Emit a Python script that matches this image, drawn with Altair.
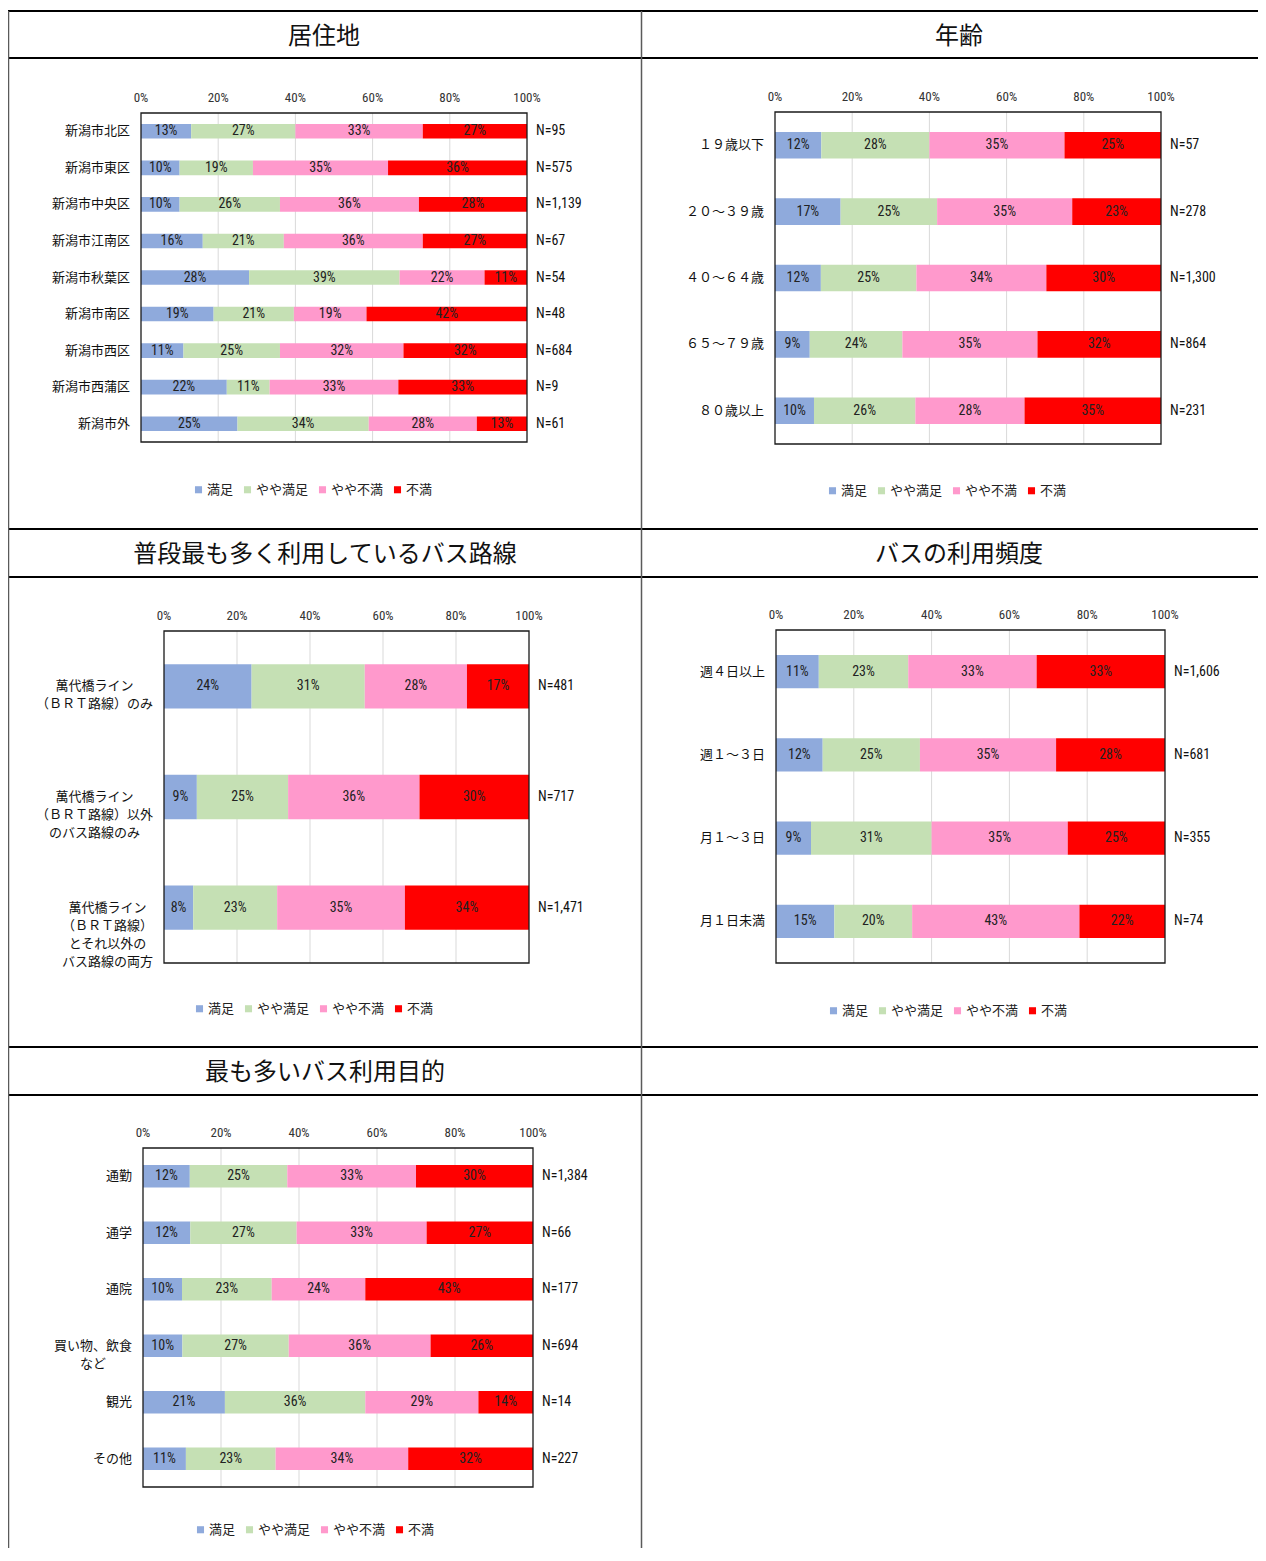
import altair as alt
import pandas as pd

LEVELS = ["満足", "やや満足", "やや不満", "不満"]
COLORS = ["#8FAADC", "#C5E0B4", "#FF99CC", "#FF0000"]
TICKS = [0, 20, 40, 60, 80, 100]

# 居住地
RES_CATS = ["新潟市北区", "新潟市東区", "新潟市中央区", "新潟市江南区", "新潟市秋葉区",
            "新潟市南区", "新潟市西区", "新潟市西蒲区", "新潟市外"]
RES_SAT = [13, 10, 10, 16, 28, 19, 11, 22, 25]
RES_SSAT = [27, 19, 26, 21, 39, 21, 25, 11, 34]
RES_SDIS = [33, 35, 36, 36, 22, 19, 32, 33, 28]
RES_DIS = [27, 36, 28, 27, 11, 42, 32, 33, 13]
RES_N = ["N=95", "N=575", "N=1,139", "N=67", "N=54", "N=48", "N=684", "N=9", "N=61"]

# 年齢
AGE_CATS = ["１９歳以下", "２０～３９歳", "４０～６４歳", "６５～７９歳", "８０歳以上"]
AGE_SAT = [12, 17, 12, 9, 10]
AGE_SSAT = [28, 25, 25, 24, 26]
AGE_SDIS = [35, 35, 34, 35, 28]
AGE_DIS = [25, 23, 30, 32, 35]
AGE_N = ["N=57", "N=278", "N=1,300", "N=864", "N=231"]

# 普段最も多く利用しているバス路線
ROUTE_CATS = ["萬代橋ライン\n（ＢＲＴ路線）のみ",
              "萬代橋ライン\n（ＢＲＴ路線）以外\nのバス路線のみ",
              "萬代橋ライン\n（ＢＲＴ路線）\nとそれ以外の\nバス路線の両方"]
ROUTE_SAT = [24, 9, 8]
ROUTE_SSAT = [31, 25, 23]
ROUTE_SDIS = [28, 36, 35]
ROUTE_DIS = [17, 30, 34]
ROUTE_N = ["N=481", "N=717", "N=1,471"]

# バスの利用頻度
FREQ_CATS = ["週４日以上", "週１～３日", "月１～３日", "月１日未満"]
FREQ_SAT = [11, 12, 9, 15]
FREQ_SSAT = [23, 25, 31, 20]
FREQ_SDIS = [33, 35, 35, 43]
FREQ_DIS = [33, 28, 25, 22]
FREQ_N = ["N=1,606", "N=681", "N=355", "N=74"]

# 最も多いバス利用目的
PURP_CATS = ["通勤", "通学", "通院", "買い物、飲食\nなど", "観光", "その他"]
PURP_SAT = [12, 12, 10, 10, 21, 11]
PURP_SSAT = [25, 27, 23, 27, 36, 23]
PURP_SDIS = [33, 33, 24, 36, 29, 34]
PURP_DIS = [30, 27, 43, 26, 14, 32]
PURP_N = ["N=1,384", "N=66", "N=177", "N=694", "N=14", "N=227"]

TITLES = ["居住地", "年齢", "普段最も多く利用しているバス路線", "バスの利用頻度", "最も多いバス利用目的"]

# ---- layout (pixels inside the chart) ----
W, H = 1250, 1540
JP = "Noto Sans CJK JP"
NUM = "Liberation Sans Narrow, Roboto Condensed, Noto Sans CJK JP"
CAT_FS = 13

PANELS = [
    dict(box=(133, 519, 105, 434), leg=(184, 475)),
    dict(box=(767, 1153, 104, 436), leg=(818, 476)),
    dict(box=(156, 521, 623, 955), leg=(185, 994)),
    dict(box=(768, 1157, 622, 955), leg=(819, 996)),
    dict(box=(135, 525, 1140, 1479), leg=(186, 1515)),
]
TITLE_POS = [(316, 29), (951, 29), (317, 547), (951, 547), (317, 1065)]
H_LINES = [3, 50, 521, 569, 1039, 1087]
V_LINES = [0.5, 633.5]


def panel(cats, series, ns, layout):
    x0, x1, y0, y1 = layout["box"]
    lx, ly = layout["leg"]
    n = len(cats)
    bw = x1 - x0
    rows = []
    for i in range(n):
        vals = [s[i] for s in series]
        tot = sum(vals)
        cum = 0
        for k, (lev, v) in enumerate(zip(LEVELS, vals)):
            rows.append(dict(row=i, level=lev, order=k,
                             start=cum / tot, end=(cum + v) / tot,
                             mid=(cum + v / 2) / tot, label=f"{v}%",
                             ya=i + 0.3, yb=i + 0.7, yc=i + 0.5))
            cum += v
    seg = pd.DataFrame(rows)
    cat_df = pd.DataFrame(dict(
        cat=cats, n=ns, yc=[i + 0.5 for i in range(n)],
        xl=[-(11 + max(len(s) for s in c.split("\n")) * CAT_FS / 2) / bw for c in cats],
        xr=[1.0] * n))
    tick_df = pd.DataFrame(dict(v=[t / 100 for t in TICKS], lab=[f"{t}%" for t in TICKS],
                                y=[0.0] * len(TICKS)))
    grid_df = pd.DataFrame(dict(v=[t / 100 for t in TICKS[1:-1]], a=[0.0] * 4, b=[float(n)] * 4))
    box_df = pd.DataFrame(dict(a=[0.0], b=[1.0], c=[0.0], d=[float(n)]))

    xs = alt.Scale(domain=[0, 1], range=[x0, x1], nice=False, zero=False)
    ys = alt.Scale(domain=[0, n], range=[y0, y1], nice=False, zero=False)

    def X(f):
        return alt.X(f, type="quantitative", scale=xs, axis=None)

    def Y(f):
        return alt.Y(f, type="quantitative", scale=ys, axis=None)

    grid = alt.Chart(grid_df).mark_rule(color="#D9D9D9", strokeWidth=1).encode(
        x=X("v"), y=Y("a"), y2="b")
    bars = alt.Chart(seg).mark_rect().encode(
        x=X("start"), x2="end", y=Y("ya"), y2="yb",
        color=alt.Color("level:N", scale=alt.Scale(domain=LEVELS, range=COLORS),
                        legend=alt.Legend(orient="none", legendX=lx, legendY=ly,
                                          direction="horizontal", columns=4, title=None,
                                          symbolType="square", symbolSize=50,
                                          symbolStrokeWidth=0, labelFont=JP,
                                          labelFontSize=13, labelColor="#222",
                                          labelOffset=2, columnPadding=7)))
    box = alt.Chart(box_df).mark_rect(fill="white", fillOpacity=0, stroke="#1a1a1a",
                                      strokeWidth=1.3).encode(
        x=X("a"), x2="b", y=Y("c"), y2="d")
    pct = alt.Chart(seg).mark_text(font=NUM, fontSize=14, color="#222",
                                   baseline="middle", align="center").encode(
        x=X("mid"), y=Y("yc"), text="label:N")
    catlab = alt.Chart(cat_df).mark_text(font=JP, fontSize=CAT_FS, color="#111",
                                         baseline="middle", align="center",
                                         lineBreak="\n", lineHeight=18).encode(
        x=X("xl"), y=Y("yc"), text="cat:N")
    nlab = alt.Chart(cat_df).mark_text(font=NUM, fontSize=14, color="#111",
                                       baseline="middle", align="left", dx=9).encode(
        x=X("xr"), y=Y("yc"), text="n:N")
    ticks = alt.Chart(tick_df).mark_text(font=NUM, fontSize=13, color="#333",
                                         baseline="middle", align="center", dy=-15).encode(
        x=X("v"), y=Y("y"), text="lab:N")
    return alt.layer(grid, bars, box, pct, catlab, nlab, ticks)


# frame of the table
px = alt.Scale(domain=[0, W], range=[0, W], nice=False, zero=False)
py = alt.Scale(domain=[0, H], range=[0, H], nice=False, zero=False)
hl = pd.DataFrame(dict(y=H_LINES, a=[0] * len(H_LINES), b=[W] * len(H_LINES)))
vl = pd.DataFrame(dict(x=V_LINES, a=[H_LINES[0]] * len(V_LINES), b=[H] * len(V_LINES)))
tl = pd.DataFrame(dict(t=TITLES, x=[p[0] for p in TITLE_POS], y=[p[1] for p in TITLE_POS]))
frame = alt.layer(
    alt.Chart(hl).mark_rule(color="#000", strokeWidth=2).encode(
        x=alt.X("a:Q", scale=px, axis=None), x2="b", y=alt.Y("y:Q", scale=py, axis=None)),
    alt.Chart(vl).mark_rule(color="#5a5a5a", strokeWidth=1.5).encode(
        x=alt.X("x:Q", scale=px, axis=None), y=alt.Y("a:Q", scale=py, axis=None), y2="b"),
    alt.Chart(tl).mark_text(font=JP, fontSize=24, color="#111", baseline="middle",
                            align="center").encode(
        x=alt.X("x:Q", scale=px, axis=None), y=alt.Y("y:Q", scale=py, axis=None), text="t:N"),
)

p1 = panel(RES_CATS, [RES_SAT, RES_SSAT, RES_SDIS, RES_DIS], RES_N, PANELS[0])
p2 = panel(AGE_CATS, [AGE_SAT, AGE_SSAT, AGE_SDIS, AGE_DIS], AGE_N, PANELS[1])
p3 = panel(ROUTE_CATS, [ROUTE_SAT, ROUTE_SSAT, ROUTE_SDIS, ROUTE_DIS], ROUTE_N, PANELS[2])
p4 = panel(FREQ_CATS, [FREQ_SAT, FREQ_SSAT, FREQ_SDIS, FREQ_DIS], FREQ_N, PANELS[3])
p5 = panel(PURP_CATS, [PURP_SAT, PURP_SSAT, PURP_SDIS, PURP_DIS], PURP_N, PANELS[4])

chart = alt.layer(frame, p1, p2, p3, p4, p5).resolve_scale(
    x="independent", y="independent", color="independent"
).properties(width=W, height=H, padding=0, autosize="none").configure_view(stroke=None)

chart.save("out.html", embed_options={"renderer": "svg", "actions": False})
